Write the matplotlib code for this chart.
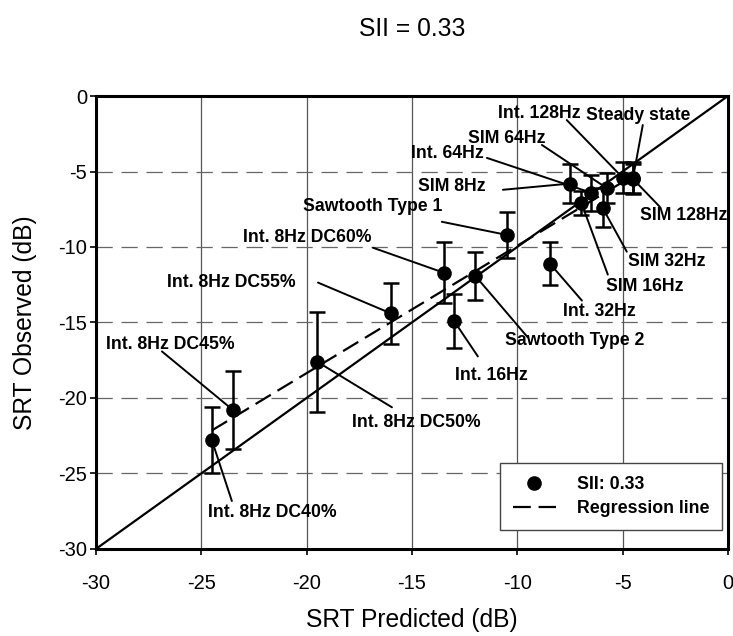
import numpy as np
import matplotlib.pyplot as plt
from matplotlib.lines import Line2D

plt.rcParams['font.family'] = ['Liberation Sans', 'DejaVu Sans']
plt.rcParams['axes.unicode_minus'] = False

labels = ['Int. 8Hz DC40%', 'Int. 8Hz DC45%', 'Int. 8Hz DC50%', 'Int. 8Hz DC55%',
          'Int. 8Hz DC60%', 'Int. 16Hz', 'Sawtooth Type 2', 'Sawtooth Type 1',
          'Int. 32Hz', 'SIM 8Hz', 'SIM 16Hz', 'Int. 64Hz', 'SIM 64Hz', 'SIM 32Hz',
          'Int. 128Hz', 'Steady state', 'SIM 128Hz']
srt_pred = np.array([-24.5, -23.5, -19.5, -16.0, -13.5, -13.0, -12.0, -10.5,
                     -8.45, -7.5, -6.95, -6.5, -5.75, -5.95, -5.0, -4.5, -4.5])
srt_obs = np.array([-22.8, -20.8, -17.6, -14.4, -11.7, -14.9, -11.9, -9.2,
                    -11.1, -5.8, -7.1, -6.4, -6.1, -7.4, -5.4, -5.4, -5.5])
srt_err = np.array([2.2, 2.6, 3.3, 2.0, 2.0, 1.8, 1.6, 1.5,
                    1.4, 1.3, 0.8, 1.2, 1.0, 1.3, 1.0, 1.0, 1.0])

# label text centre and start of the leader line, per point
label_pos = [(-21.65, -27.56), (-26.49, -16.46), (-14.81, -21.61), (-23.59, -12.36),
             (-19.99, -9.39), (-11.21, -18.51), (-7.27, -16.19), (-16.85, -7.34),
             (-6.08, -14.28), (-13.10, -6.01), (-3.94, -12.62), (-13.34, -3.83),
             (-10.49, -2.84), (-2.90, -10.97), (-8.93, -1.19), (-4.28, -1.26),
             (-2.09, -7.93)]
line_start = [(-23.55, -26.83), (-26.87, -16.92), (-15.95, -20.62), (-19.46, -12.36),
              (-16.85, -10.05), (-11.87, -17.25), (-9.50, -15.99), (-13.58, -8.33),
              (-6.93, -13.55), (-10.68, -6.21), (-5.70, -11.83), (-11.44, -4.10),
              (-8.83, -3.24), (-4.80, -10.31), (-7.65, -1.59), (-4.04, -1.92),
              (-3.23, -7.34)]

ticks = [-30, -25, -20, -15, -10, -5, 0]

fig = plt.figure(figsize=(7.33, 6.36), dpi=100)
ax = fig.add_axes([0.131, 0.137, 0.862, 0.712])

ax.set_xlim(-30, 0)
ax.set_ylim(-30, 0)
ax.set_xticks(ticks)
ax.set_yticks(ticks)
ax.tick_params(direction='out', length=4, width=1.2, labelsize=14.5)
ax.tick_params(axis='x', pad=14)
ax.tick_params(axis='y', pad=2.5)

for t in ticks[1:-1]:
    ax.axvline(t, color='#555555', lw=0.9, zorder=0)
    ax.axhline(t, color='#666666', lw=0.9, ls=(0, (13, 7)), zorder=0)

for s in ax.spines.values():
    s.set_linewidth(2.2)

# identity line
ax.plot([-30, 0], [-30, 0], color='black', lw=1.6, zorder=2)

# regression line through the points
slope, icpt = np.polyfit(srt_pred, srt_obs, 1)
xr = np.array([srt_pred.min(), srt_pred.max()])
ax.plot(xr, slope * xr + icpt, color='black', lw=1.6, ls=(0, (8, 3.5)), zorder=2)

ax.errorbar(srt_pred, srt_obs, yerr=srt_err, fmt='none', ecolor='black',
            elinewidth=1.8, capsize=5.5, capthick=1.8, zorder=3)
ax.plot(srt_pred, srt_obs, 'o', color='black', ms=9.5, zorder=4)

for lab, x, y, (tx, ty), (sx, sy) in zip(labels, srt_pred, srt_obs, label_pos, line_start):
    ax.text(tx, ty, lab, fontsize=12.7, fontweight='bold', ha='center', va='center', zorder=5)
    ax.annotate('', xy=(x, y), xytext=(sx, sy),
                arrowprops=dict(arrowstyle='-', color='black', lw=1.4,
                                shrinkA=0, shrinkB=3), zorder=5)

handles = [Line2D([], [], marker='o', ls='none', color='black', ms=9.5),
           Line2D([], [], color='black', lw=1.6, ls=(0, (8, 3.5)))]
leg = ax.legend(handles, ['SII: 0.33', 'Regression line'], loc='lower right',
                bbox_to_anchor=(0.9905, 0.042), borderaxespad=0, fancybox=False,
                framealpha=1, edgecolor='#444444', handlelength=2.4,
                handletextpad=1.2, borderpad=0.7, labelspacing=0.42,
                prop={'weight': 'bold', 'size': 12.8})
leg.get_frame().set_linewidth(1.0)

ax.set_xlabel('SRT Predicted (dB)', fontsize=17.7, labelpad=11)
ax.set_ylabel('SRT Observed (dB)', fontsize=17.7, labelpad=15)
fig.text(0.562, 0.955, 'SII = 0.33', fontsize=17.7, ha='center', va='center')

fig.savefig('out.png', dpi=100)
